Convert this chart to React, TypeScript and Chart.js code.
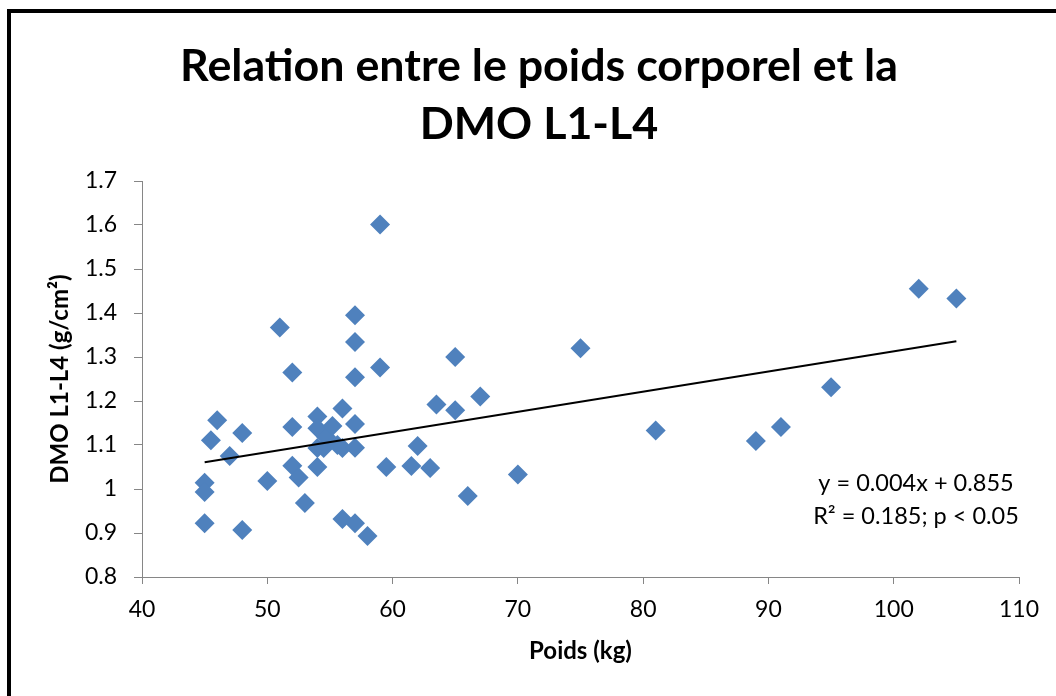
import React, { useEffect, useRef } from 'react';
import { Chart, registerables } from 'chart.js';

Chart.register(...registerables);

// Body weight (kg) of each subject
const WEIGHT_KG = [
  45, 45, 45, 45.5, 46, 47, 48, 48, 50, 51,
  52, 52, 52, 52.5, 53, 54, 54, 54, 54, 54.5,
  54.7, 55.2, 55.6, 56, 56, 56, 57, 57, 57, 57,
  57, 57, 58, 59, 59, 59.5, 61.5, 62, 63, 63.5,
  65, 65, 66, 67, 70, 75, 81, 89, 91, 95,
  102, 105,
];
// Bone mineral density L1-L4 (g/cm²) of each subject
const DMO_L1L4 = [
  1.014, 0.993, 0.922, 1.111, 1.156, 1.075, 1.127, 0.907, 1.018, 1.367,
  1.265, 1.141, 1.053, 1.026, 0.968, 1.165, 1.138, 1.093, 1.05, 1.093,
  1.118, 1.143, 1.1, 1.183, 1.093, 0.932, 1.395, 1.334, 1.254, 1.148,
  1.094, 0.922, 0.893, 1.601, 1.276, 1.05, 1.052, 1.098, 1.048, 1.192,
  1.3, 1.179, 0.984, 1.21, 1.033, 1.32, 1.133, 1.109, 1.141, 1.231,
  1.455, 1.433,
];
// Trend line end points as drawn
const TREND_X = [45, 105];
const TREND_Y = [1.061, 1.336];

const X_TICKS = [40, 50, 60, 70, 80, 90, 100, 110];
const Y_TICKS = [0.8, 0.9, 1.0, 1.1, 1.2, 1.3, 1.4, 1.5, 1.6, 1.7];

const TITLE_LINES = ['Relation entre le poids corporel et la', 'DMO L1-L4'];
const EQUATION_LINES = ['y = 0.004x + 0.855', 'R² = 0.185; p < 0.05'];
const X_TITLE = 'Poids (kg)';
const Y_TITLE = 'DMO L1-L4 (g/cm²)';

const MARKER_COLOR = '#4F81BD';
const AXIS_COLOR = '#868686';
const FONT = 'Lato';

const decorPlugin = {
  id: 'decor',
  beforeDraw(chart: any) {
    const ctx = chart.ctx;
    ctx.save();
    ctx.fillStyle = '#ffffff';
    ctx.fillRect(0, 0, chart.width, chart.height);
    ctx.restore();
  },
  afterDraw(chart: any) {
    const ctx = chart.ctx;
    ctx.save();
    // frame
    ctx.fillStyle = '#000000';
    ctx.fillRect(7, 9, 4, chart.height);
    ctx.fillRect(7, 9, chart.width, 4);
    // title
    ctx.font = `bold 40px ${FONT}`;
    const w = ctx.measureText(TITLE_LINES[0]).width;
    const size = (40 * 718) / w;
    ctx.font = `bold ${size}px ${FONT}`;
    ctx.textAlign = 'center';
    ctx.textBaseline = 'alphabetic';
    ctx.fillStyle = '#000000';
    ctx.fillText(TITLE_LINES[0], 539, 81);
    ctx.fillText(TITLE_LINES[1], 539, 139);
    // equation
    ctx.font = `23.5px ${FONT}`;
    ctx.textBaseline = 'middle';
    ctx.fillText(EQUATION_LINES[0], 916, 483);
    ctx.fillText(EQUATION_LINES[1], 916, 516);
    ctx.restore();
  },
};

export default function App() {
  const ref = useRef<HTMLCanvasElement | null>(null);

  useEffect(() => {
    if (!ref.current) return;
    const points = WEIGHT_KG.map((x, i) => ({ x, y: DMO_L1L4[i] }));
    const trend = TREND_X.map((x, i) => ({ x, y: TREND_Y[i] }));
    const chart = new Chart(ref.current, {
      type: 'scatter',
      data: {
        datasets: [
          {
            type: 'line',
            label: 'Tendance',
            data: trend,
            borderColor: '#000000',
            borderWidth: 2,
            pointRadius: 0,
            fill: false,
            order: 0,
          } as any,
          {
            label: 'DMO',
            data: points,
            pointStyle: 'rectRot',
            pointRadius: 10,
            pointHoverRadius: 10,
            backgroundColor: MARKER_COLOR,
            borderColor: MARKER_COLOR,
            borderWidth: 0,
            order: 1,
          },
        ],
      },
      options: {
        responsive: false,
        animation: false,
        devicePixelRatio: 1,
        layout: { padding: { left: 0, top: 181, right: 37, bottom: 0 } },
        plugins: {
          legend: { display: false },
          title: { display: false },
          tooltip: { enabled: false },
        },
        scales: {
          x: {
            type: 'linear',
            min: X_TICKS[0],
            max: X_TICKS[X_TICKS.length - 1],
            afterBuildTicks: (scale: any) => {
              scale.ticks = X_TICKS.map((v) => ({ value: v }));
            },
            afterFit: (scale: any) => {
              scale.height = 119;
            },
            ticks: {
              color: '#000000',
              font: { family: FONT, size: 23 },
              padding: 12,
              maxRotation: 0,
              callback: (v: any) => String(v),
            },
            grid: {
              display: true,
              drawOnChartArea: false,
              drawTicks: true,
              tickLength: 7,
              color: AXIS_COLOR,
            },
            border: { display: true, color: AXIS_COLOR, width: 1 },
            title: {
              display: true,
              text: X_TITLE,
              color: '#000000',
              font: { family: FONT, size: 24, weight: 'bold' },
              padding: { top: 0, bottom: 30 },
            },
          },
          y: {
            type: 'linear',
            min: Y_TICKS[0],
            max: Y_TICKS[Y_TICKS.length - 1],
            afterBuildTicks: (scale: any) => {
              scale.ticks = Y_TICKS.map((v) => ({ value: v }));
            },
            afterFit: (scale: any) => {
              scale.width = 142;
            },
            ticks: {
              color: '#000000',
              font: { family: FONT, size: 23 },
              padding: 17,
              callback: (v: any) => String(Number(Number(v).toFixed(1))),
            },
            grid: {
              display: true,
              drawOnChartArea: false,
              drawTicks: true,
              tickLength: 8,
              color: AXIS_COLOR,
            },
            border: { display: true, color: AXIS_COLOR, width: 1 },
            title: {
              display: true,
              text: Y_TITLE,
              color: '#000000',
              font: { family: FONT, size: 24, weight: 'bold' },
              padding: { top: 46, bottom: 0 },
            },
          },
        },
      },
      plugins: [decorPlugin],
    });
    return () => chart.destroy();
  }, []);

  return (
    <canvas
      ref={ref}
      width={1056}
      height={696}
      style={{ position: 'absolute', left: 0, top: 0, display: 'block' }}
    />
  );
}
